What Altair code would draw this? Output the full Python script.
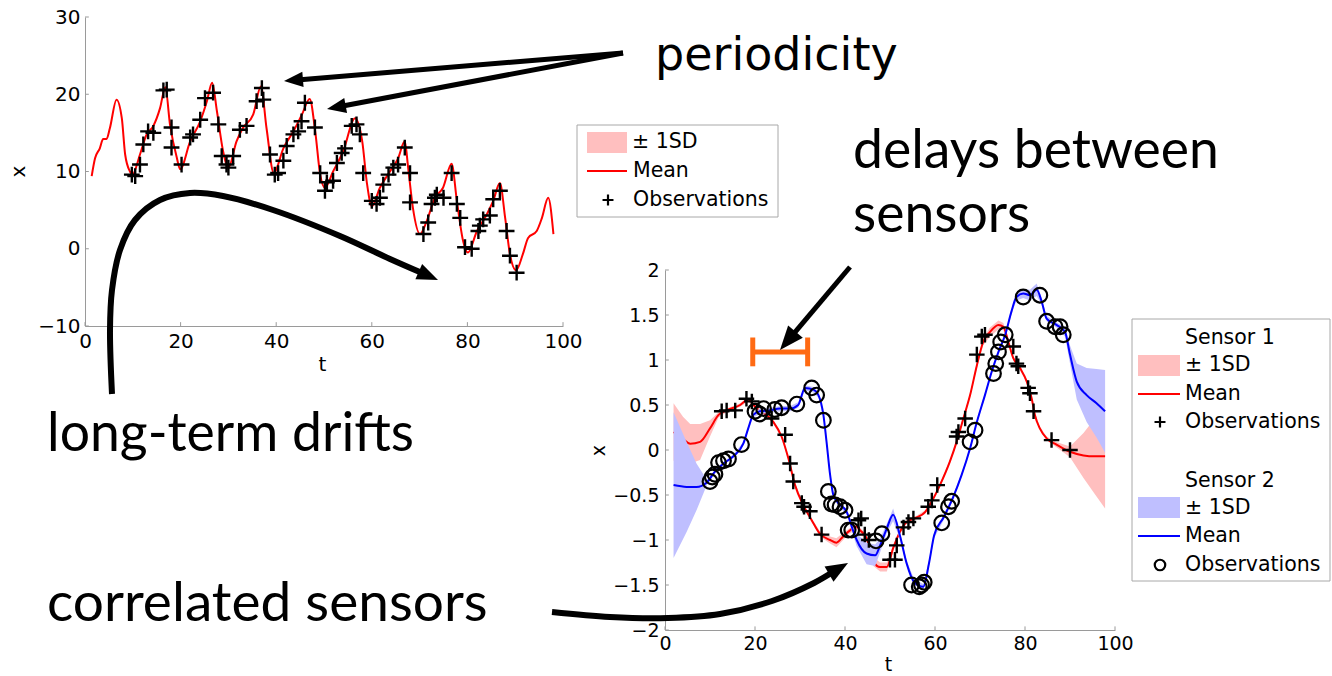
import math
import altair as alt
import pandas as pd

W, H = 1332, 676
SANS = "DejaVu Sans"
HUM = "Lato"

# ---------------- top-left panel: one periodic sensor ----------------
p1_t = [1.4, 2.1, 3.1, 3.8, 4.5, 5.2, 6.6, 7.7, 8.4, 9.4, 9.9, 11.5, 12.9, 14.3, 15.7, 16.8, 17.8, 19.2, 19.9, 22.0,
        24.1, 25.5, 26.6, 27.6, 28.9, 30.0, 31.7, 33.0, 35.2, 36.8, 38.0, 39.5, 41.5, 43.6, 45.4, 47.0, 48.2, 49.2, 50.2, 51.9,
        54.0, 56.5, 58.0, 59.0, 60.0, 61.7, 63.8, 65.5, 66.9, 67.6, 68.6, 70.1, 71.5, 73.2, 74.9, 76.7, 77.8, 79.1, 80.1, 82.0,
        84.1, 85.4, 86.8, 87.9, 88.9, 90.2, 91.6, 92.7, 94.5, 95.6, 96.9, 98.0]
p1_mean = [9.4, 11.7, 13.0, 14.2, 14.2, 15.6, 19.3, 16.9, 12.2, 10.0, 9.6, 12.2, 14.8, 15.9, 18.2, 20.9, 16.0, 11.8, 10.3, 13.9,
           16.5, 19.1, 21.5, 17.8, 12.6, 10.5, 13.9, 15.6, 17.4, 21.0, 15.5, 9.8, 13.0, 15.2, 17.4, 19.4, 15.0, 9.6, 7.9, 10.0,
           12.6, 16.9, 13.9, 8.4, 5.5, 7.9, 10.0, 11.7, 13.9, 10.5, 5.3, 1.9, 3.6, 6.6, 7.9, 11.0, 6.2, 1.0, -0.5, 2.3,
           4.5, 6.2, 8.5, 4.0, -0.7, -2.8, -0.7, 1.4, 2.3, 4.0, 6.6, 1.9]
p1_obs_t = [9.8, 10.5, 11.5, 12.2, 13.2, 14.3, 16.4, 17.1, 18.1, 18.1, 20.2, 22.0, 22.6, 24.1, 25.1, 26.8, 27.9, 28.6, 29.6, 30.0,
            31.0, 32.4, 33.8, 35.9, 37.0, 37.3, 38.7, 39.7, 40.4, 41.5, 42.2, 43.6, 44.6, 45.3, 46.0, 48.1, 49.2, 50.2, 50.6, 51.9,
            52.7, 53.7, 54.4, 55.8, 56.8, 57.5, 58.2, 60.0, 61.0, 61.7, 62.4, 63.5, 64.5, 65.5, 66.9, 68.0, 68.0, 70.8, 71.8, 72.5,
            73.2, 73.6, 75.0, 76.7, 77.8, 78.5, 79.5, 80.9, 82.3, 82.6, 83.3, 84.7, 85.4, 86.8, 88.2, 88.9, 90.3]
p1_obs_x = [9.6, 9.4, 10.9, 13.5, 15.2, 15.0, 20.5, 20.6, 15.7, 13.1, 10.9, 14.4, 14.8, 16.7, 19.5, 20.2, 16.1, 12.0, 10.9, 10.5,
            12.0, 15.4, 15.9, 19.1, 20.8, 19.3, 12.2, 9.6, 9.8, 11.4, 13.3, 14.8, 15.2, 16.5, 18.9, 15.7, 9.8, 7.5, 8.6, 8.8,
            11.1, 12.4, 13.0, 15.9, 16.1, 14.8, 9.8, 6.2, 5.8, 6.6, 8.3, 9.6, 10.5, 10.9, 13.1, 9.8, 6.0, 1.9, 3.4, 5.8,
            6.6, 7.0, 6.6, 9.8, 5.8, 4.0, 0.2, 0.0, 2.3, 3.0, 3.8, 4.3, 6.4, 7.5, 2.3, -0.9, -3.1]
p1_xticks = [0, 20, 40, 60, 80, 100]
p1_yticks = [-10, 0, 10, 20, 30]

# ---------------- bottom-right panel: two correlated sensors ----------------
s1_t = [1.9, 4.0, 5.6, 7.8, 10.0, 11.9, 13.7, 16.7, 18.5, 20.4, 22.6, 24.1, 25.9, 27.4, 28.9, 30.7, 32.6, 34.4, 36.7, 38.1,
        39.6, 40.7, 42.6, 43.3, 44.8, 46.3, 47.8, 49.3, 50.7, 52.2, 53.7, 55.9, 57.8, 59.3, 61.1, 63.3, 64.8, 66.3, 67.8, 69.3,
        70.7, 72.2, 74.1, 75.2, 76.3, 77.4, 78.9, 80.4, 81.5, 82.2, 83.3, 84.8, 87.0, 90.0, 93.0, 95.5, 97.8]
s1_mean = [0.20, 0.12, 0.07, 0.09, 0.24, 0.39, 0.44, 0.50, 0.56, 0.46, 0.39, 0.31, 0.15, -0.09, -0.39, -0.61, -0.78, -0.93, -1.00, -1.03,
           -0.96, -0.91, -0.85, -0.89, -0.98, -1.24, -1.30, -1.30, -1.09, -0.91, -0.80, -0.75, -0.69, -0.57, -0.39, -0.13, 0.09, 0.35, 0.61, 0.94,
           1.20, 1.31, 1.39, 1.37, 1.20, 1.02, 0.91, 0.76, 0.57, 0.39, 0.24, 0.13, 0.06, -0.02, -0.06, -0.07, -0.07]
s1_sd = [0.32, 0.25, 0.22, 0.20, 0.09, 0.03, 0.02, 0.02, 0.02, 0.02, 0.02, 0.02, 0.02, 0.02, 0.02, 0.02, 0.02, 0.03, 0.04, 0.05,
         0.04, 0.03, 0.03, 0.03, 0.04, 0.05, 0.05, 0.05, 0.03, 0.02, 0.02, 0.02, 0.02, 0.02, 0.02, 0.02, 0.02, 0.02, 0.02, 0.03,
         0.04, 0.05, 0.05, 0.04, 0.03, 0.02, 0.02, 0.02, 0.02, 0.02, 0.02, 0.02, 0.03, 0.06, 0.25, 0.42, 0.58]
s2_t = [1.9, 4.8, 7.0, 9.3, 11.1, 13.0, 15.2, 17.4, 18.5, 19.6, 21.1, 23.3, 25.6, 27.8, 29.6, 31.1, 33.0, 34.1, 35.2, 35.9,
        36.7, 37.4, 38.5, 40.4, 41.9, 42.6, 44.8, 46.7, 47.8, 49.3, 50.7, 52.2, 53.7, 55.4, 57.4, 58.7, 59.8, 61.9, 64.0, 65.9,
        67.8, 69.3, 71.1, 72.6, 74.1, 75.6, 77.0, 78.1, 79.6, 81.1, 82.6, 83.7, 84.8, 87.0, 88.9, 90.0, 91.5, 93.7, 95.9, 97.8]
s2_mean = [-0.39, -0.41, -0.41, -0.36, -0.24, -0.15, -0.07, 0.07, 0.24, 0.39, 0.43, 0.44, 0.46, 0.46, 0.50, 0.69, 0.67, 0.61, 0.39, 0.09,
           -0.28, -0.50, -0.59, -0.69, -0.91, -1.00, -1.15, -1.17, -1.06, -0.87, -0.72, -0.95, -1.26, -1.47, -1.52, -1.25, -0.95, -0.75, -0.53, -0.28,
           0.02, 0.31, 0.61, 0.87, 1.09, 1.28, 1.54, 1.70, 1.74, 1.72, 1.78, 1.65, 1.46, 1.39, 1.31, 1.06, 0.76, 0.61, 0.52, 0.43]
s2_sd = [0.81, 0.50, 0.26, 0.03, 0.02, 0.02, 0.02, 0.02, 0.02, 0.03, 0.03, 0.03, 0.03, 0.03, 0.03, 0.03, 0.03, 0.03, 0.03, 0.03,
         0.03, 0.03, 0.03, 0.03, 0.05, 0.07, 0.12, 0.12, 0.08, 0.05, 0.07, 0.04, 0.03, 0.03, 0.03, 0.03, 0.03, 0.03, 0.03, 0.02,
         0.02, 0.02, 0.02, 0.02, 0.02, 0.02, 0.03, 0.04, 0.05, 0.06, 0.07, 0.04, 0.03, 0.03, 0.05, 0.10, 0.20, 0.30, 0.38, 0.46]
s1_obs_t = [12.6, 13.7, 15.6, 18.1, 19.3, 23.7, 26.7, 27.8, 28.5, 30.4, 30.9, 32.2, 34.8, 43.0, 43.6, 44.4, 45.3, 50.0, 51.1, 51.5,
            53.0, 54.1, 55.2, 58.5, 59.3, 60.5, 64.8, 65.2, 66.7, 69.3, 70.4, 71.1, 77.4, 78.1, 78.5, 80.7, 81.1, 81.9, 85.9, 90.0]
s1_obs_x = [0.43, 0.44, 0.44, 0.57, 0.54, 0.35, 0.17, -0.15, -0.35, -0.59, -0.63, -0.68, -0.94, -0.78, -0.76, -0.94, -1.00, -1.22, -1.22, -1.06,
            -0.86, -0.80, -0.76, -0.63, -0.56, -0.39, 0.15, 0.20, 0.35, 1.06, 1.26, 1.28, 1.15, 0.96, 0.93, 0.69, 0.63, 0.43, 0.11, 0.00]
s2_obs_t = [10.0, 10.5, 11.1, 11.9, 13.0, 14.1, 17.0, 20.0, 21.0, 21.9, 24.4, 25.9, 29.3, 32.6, 33.7, 35.2, 36.3, 37.0, 37.8, 38.9,
            40.0, 40.7, 41.5, 46.9, 48.2, 54.8, 56.5, 57.0, 57.6, 61.5, 63.0, 63.7, 67.8, 68.9, 73.0, 73.5, 74.1, 74.6, 75.6, 79.6,
            83.3, 84.8, 86.7, 87.8, 88.5]
s2_obs_x = [-0.35, -0.30, -0.27, -0.14, -0.12, -0.10, 0.06, 0.43, 0.40, 0.46, 0.45, 0.47, 0.51, 0.69, 0.61, 0.33, -0.46, -0.60, -0.61, -0.63,
            -0.67, -0.89, -0.89, -1.01, -0.93, -1.50, -1.52, -1.50, -1.47, -0.81, -0.63, -0.57, 0.09, 0.22, 0.85, 0.96, 1.09, 1.20, 1.28, 1.70,
            1.72, 1.43, 1.37, 1.37, 1.28]
p2_xticks = [0, 20, 40, 60, 80, 100]
p2_yticks = [-2, -1.5, -1, -0.5, 0, 0.5, 1, 1.5, 2]
lag_t = [19.5, 31.7]   # delay bracket between the two sensors
lag_level = 1.09

# ---------------- layout (pixels) ----------------
P1_XR, P1_YR = [85, 563], [326, 17]
P2_XR, P2_YR = [665, 1115], [630, 270]

RED, BLUE, PINK, LBLUE = "#ff0000", "#0000ff", "#ffbfbf", "#bfbfff"
AXCOL = "#9a9a9a"
PLUS = "M0,-1L0,1M-1,0L1,0"
HEAD = "M0,0L-2,-0.8L-2,0.8Z"

P1X = alt.Scale(domain=[0, 100], range=P1_XR, nice=False, zero=False)
P1Y = alt.Scale(domain=[-10, 30], range=P1_YR, nice=False, zero=False)
P2X = alt.Scale(domain=[0, 100], range=P2_XR, nice=False, zero=False)
P2Y = alt.Scale(domain=[-2, 2], range=P2_YR, nice=False, zero=False)
PXS = alt.Scale(domain=[0, W], range=[0, W], nice=False, zero=False)
PYS = alt.Scale(domain=[0, H], range=[0, H], nice=False, zero=False)

AX = dict(labelFont=SANS, labelColor="#000000", domainColor=AXCOL, domainWidth=1, ticks=False, grid=False,
          labelFlush=False, labelOverlap=False, titleFont=SANS, titleFontWeight="normal", titleColor="#000000",
          titleBaseline="middle", titleAlign="center")

for a, b in [(p1_t, p1_mean), (p1_obs_t, p1_obs_x), (s1_t, s1_mean), (s1_t, s1_sd), (s2_t, s2_mean), (s2_t, s2_sd),
             (s1_obs_t, s1_obs_x), (s2_obs_t, s2_obs_x)]:
    assert len(a) == len(b), (len(a), len(b))

layers = []

# ---------- panel 1 ----------
df_p1 = pd.DataFrame({"t": p1_t, "v": p1_mean})
layers.append(alt.Chart(df_p1).mark_line(color=RED, strokeWidth=2, interpolate="monotone").encode(
    x=alt.X("t:Q", scale=P1X, axis=alt.Axis(orient="bottom", offset=P1_YR[0] - H, values=p1_xticks, labelFontSize=20,
                                             labelPadding=5, title="t", titleFontSize=20, titleX=322, titleY=38, **AX)),
    y=alt.Y("v:Q", scale=P1Y, axis=alt.Axis(orient="left", offset=-P1_XR[0], values=p1_yticks, labelFontSize=20,
                                             labelPadding=5, title="x", titleFontSize=20, titleX=18 - P1_XR[0],
                                             titleY=171, titleAngle=270, **AX))))
layers.append(alt.Chart(pd.DataFrame({"v": p1_xticks, "a": -10, "b": -9.5})).mark_rule(color=AXCOL).encode(
    x=alt.X("v:Q", scale=P1X, axis=None), y=alt.Y("a:Q", scale=P1Y, axis=None), y2="b:Q"))
layers.append(alt.Chart(pd.DataFrame({"v": p1_yticks, "a": 0, "b": 0.8})).mark_rule(color=AXCOL).encode(
    y=alt.Y("v:Q", scale=P1Y, axis=None), x=alt.X("a:Q", scale=P1X, axis=None), x2="b:Q"))
layers.append(alt.Chart(pd.DataFrame({"t": p1_obs_t, "v": p1_obs_x})).mark_point(
    shape=PLUS, filled=False, color="#000000", strokeWidth=2.4, size=250, opacity=1).encode(
    x=alt.X("t:Q", scale=P1X, axis=None), y=alt.Y("v:Q", scale=P1Y, axis=None)))

# ---------- panel 2 ----------
df_s1 = pd.DataFrame({"t": s1_t, "m": s1_mean, "lo": [m - s for m, s in zip(s1_mean, s1_sd)],
                      "hi": [m + s for m, s in zip(s1_mean, s1_sd)]})
df_s2 = pd.DataFrame({"t": s2_t, "m": s2_mean, "lo": [m - s for m, s in zip(s2_mean, s2_sd)],
                      "hi": [m + s for m, s in zip(s2_mean, s2_sd)]})
layers.append(alt.Chart(df_s1).mark_area(color=PINK, opacity=1).encode(
    x=alt.X("t:Q", scale=P2X, axis=alt.Axis(orient="bottom", offset=P2_YR[0] - H, values=p2_xticks, labelFontSize=19,
                                             labelPadding=4, title="t", titleFontSize=19, titleX=888, titleY=34, **AX)),
    y=alt.Y("lo:Q", scale=P2Y, axis=alt.Axis(orient="left", offset=-P2_XR[0], values=p2_yticks, format="~g",
                                              labelFontSize=19, labelPadding=6, title="x", titleFontSize=19,
                                              titleX=598 - P2_XR[0], titleY=450, titleAngle=270, **AX)),
    y2="hi:Q"))
layers.append(alt.Chart(df_s1).mark_line(color=RED, strokeWidth=2, interpolate="monotone").encode(
    x=alt.X("t:Q", scale=P2X, axis=None), y=alt.Y("m:Q", scale=P2Y, axis=None)))
layers.append(alt.Chart(df_s2).mark_area(color=LBLUE, opacity=1).encode(
    x=alt.X("t:Q", scale=P2X, axis=None), y=alt.Y("lo:Q", scale=P2Y, axis=None), y2="hi:Q"))
layers.append(alt.Chart(df_s2).mark_line(color=BLUE, strokeWidth=2, interpolate="monotone").encode(
    x=alt.X("t:Q", scale=P2X, axis=None), y=alt.Y("m:Q", scale=P2Y, axis=None)))
layers.append(alt.Chart(pd.DataFrame({"v": p2_xticks, "a": -2, "b": -1.96})).mark_rule(color=AXCOL).encode(
    x=alt.X("v:Q", scale=P2X, axis=None), y=alt.Y("a:Q", scale=P2Y, axis=None), y2="b:Q"))
layers.append(alt.Chart(pd.DataFrame({"v": p2_yticks, "a": 0, "b": 0.85})).mark_rule(color=AXCOL).encode(
    y=alt.Y("v:Q", scale=P2Y, axis=None), x=alt.X("a:Q", scale=P2X, axis=None), x2="b:Q"))
layers.append(alt.Chart(pd.DataFrame({"t": s1_obs_t, "v": s1_obs_x})).mark_point(
    shape=PLUS, filled=False, color="#000000", strokeWidth=2.4, size=240, opacity=1).encode(
    x=alt.X("t:Q", scale=P2X, axis=None), y=alt.Y("v:Q", scale=P2Y, axis=None)))
layers.append(alt.Chart(pd.DataFrame({"t": s2_obs_t, "v": s2_obs_x})).mark_point(
    shape="circle", filled=False, color="#000000", strokeWidth=2.2, size=215, opacity=1).encode(
    x=alt.X("t:Q", scale=P2X, axis=None), y=alt.Y("v:Q", scale=P2Y, axis=None)))
# delay bracket (orange)
br = pd.DataFrame({"x": [lag_t[0], lag_t[0], lag_t[1]], "x2": [lag_t[1], lag_t[0], lag_t[1]],
                   "y": [lag_level, lag_level - 0.16, lag_level - 0.16], "y2": [lag_level, lag_level + 0.16, lag_level + 0.16]})
layers.append(alt.Chart(br).mark_rule(color="#ff6a13", strokeWidth=5).encode(
    x=alt.X("x:Q", scale=P2X, axis=None), x2="x2:Q", y=alt.Y("y:Q", scale=P2Y, axis=None), y2="y2:Q"))

# ---------- annotations (pixel space) ----------
arrows = [  # (points..., head length, shaft width)
    ([(623, 53), (284, 81)], 19, 5),
    ([(623, 53), (327, 109)], 19, 5),
    ([(850, 267), (780, 350)], 24, 5),
    ([(112, 394), (110, 330), (112, 290), (120, 250), (135, 220), (160, 200), (190, 193), (223, 196), (273, 210),
      (340, 236), (390, 259), (438, 280)], 21, 6),
    ([(552, 612), (610, 617), (668, 618), (720, 614), (772, 601), (814, 583), (848, 563)], 22, 6),
]
shaft_rows, head_rows = [], []
for k, (pts, L, sw) in enumerate(arrows):
    (x1, y1), (x2, y2) = pts[-2], pts[-1]
    d = math.hypot(x2 - x1, y2 - y1)
    ux, uy = (x2 - x1) / d, (y2 - y1) / d
    shaft = pts[:-1] + [(x2 - 0.7 * L * ux, y2 - 0.7 * L * uy)]
    for i, (x, y) in enumerate(shaft):
        shaft_rows.append({"id": k, "i": i, "x": x, "y": y, "w": sw})
    head_rows.append({"x": x2, "y": y2, "ang": math.degrees(math.atan2(uy, ux)) % 360, "s": L * L})
layers.append(alt.Chart(pd.DataFrame(shaft_rows)).mark_line(color="#000000", interpolate="catmull-rom",
                                                             strokeCap="butt").encode(
    x=alt.X("x:Q", scale=PXS, axis=None), y=alt.Y("y:Q", scale=PYS, axis=None), detail="id:N",
    order="i:Q", strokeWidth=alt.StrokeWidth("w:Q", scale=None)))
layers.append(alt.Chart(pd.DataFrame(head_rows)).mark_point(shape=HEAD, filled=True, color="#000000", opacity=1,
                                                            strokeWidth=0).encode(
    x=alt.X("x:Q", scale=PXS, axis=None), y=alt.Y("y:Q", scale=PYS, axis=None),
    angle=alt.Angle("ang:Q", scale=None), size=alt.Size("s:Q", scale=None)))

big_text = pd.DataFrame({"text": ["periodicity"], "x": [655], "y": [70], "fs": [46]})
layers.append(alt.Chart(big_text).mark_text(font=SANS, align="left", baseline="alphabetic", color="#000000").encode(
    x=alt.X("x:Q", scale=PXS, axis=None), y=alt.Y("y:Q", scale=PYS, axis=None), text="text:N",
    size=alt.Size("fs:Q", scale=None)))
hum_text = pd.DataFrame({"text": ["delays between", "sensors", "long-term drifts", "correlated sensors"],
                         "x": [853, 853, 47, 47], "y": [168, 232, 451, 621], "fs": [53.5, 53.5, 53.5, 55]})
layers.append(alt.Chart(hum_text).mark_text(font=HUM, align="left", baseline="alphabetic", color="#000000").encode(
    x=alt.X("x:Q", scale=PXS, axis=None), y=alt.Y("y:Q", scale=PYS, axis=None), text="text:N",
    size=alt.Size("fs:Q", scale=None)))

# ---------- legends ----------
leg_box = pd.DataFrame({"x": [577, 1132], "x2": [778, 1330], "y": [125, 319], "y2": [217, 581]})
layers.append(alt.Chart(leg_box).mark_rect(fill="#ffffff", stroke="#a8a8a8", strokeWidth=1).encode(
    x=alt.X("x:Q", scale=PXS, axis=None), x2="x2:Q", y=alt.Y("y:Q", scale=PYS, axis=None), y2="y2:Q"))
leg_sw = pd.DataFrame({"x": [587, 1138, 1138], "x2": [627, 1180, 1180], "y": [132, 355, 497], "y2": [153, 376, 518],
                       "c": [PINK, PINK, LBLUE]})
layers.append(alt.Chart(leg_sw).mark_rect().encode(
    x=alt.X("x:Q", scale=PXS, axis=None), x2="x2:Q", y=alt.Y("y:Q", scale=PYS, axis=None), y2="y2:Q",
    color=alt.Color("c:N", scale=None)))
leg_ln = pd.DataFrame({"x": [587, 1138, 1138], "x2": [627, 1180, 1180], "y": [171, 394, 536], "c": [RED, RED, BLUE]})
layers.append(alt.Chart(leg_ln).mark_rule(strokeWidth=2).encode(
    x=alt.X("x:Q", scale=PXS, axis=None), x2="x2:Q", y=alt.Y("y:Q", scale=PYS, axis=None),
    color=alt.Color("c:N", scale=None)))
layers.append(alt.Chart(pd.DataFrame({"x": [608, 1160], "y": [200, 422]})).mark_point(
    shape=PLUS, filled=False, color="#000000", strokeWidth=2.2, size=120, opacity=1).encode(
    x=alt.X("x:Q", scale=PXS, axis=None), y=alt.Y("y:Q", scale=PYS, axis=None)))
layers.append(alt.Chart(pd.DataFrame({"x": [1160], "y": [565]})).mark_point(
    shape="circle", filled=False, color="#000000", strokeWidth=2.2, size=110, opacity=1).encode(
    x=alt.X("x:Q", scale=PXS, axis=None), y=alt.Y("y:Q", scale=PYS, axis=None)))
leg_tx = pd.DataFrame({
    "text": ["\u00b1 1SD", "Mean", "Observations", "Sensor 1", "\u00b1 1SD", "Mean", "Observations",
             "Sensor 2", "\u00b1 1SD", "Mean", "Observations"],
    "x": [632, 633, 633, 1185, 1185, 1185, 1185, 1185, 1185, 1185, 1185],
    "y": [142, 171, 200, 338, 365, 394, 422, 481, 508, 536, 565]})
layers.append(alt.Chart(leg_tx).mark_text(font=SANS, fontSize=20.5, align="left", baseline="middle",
                                          color="#000000").encode(
    x=alt.X("x:Q", scale=PXS, axis=None), y=alt.Y("y:Q", scale=PYS, axis=None), text="text:N"))

chart = alt.layer(*layers).resolve_scale(x="independent", y="independent").properties(
    width=W, height=H, padding=0, autosize=alt.AutoSizeParams(type="none"), background="#ffffff"
).configure_view(stroke=None)

chart.save("out.html", embed_options={"renderer": "svg", "actions": False})
